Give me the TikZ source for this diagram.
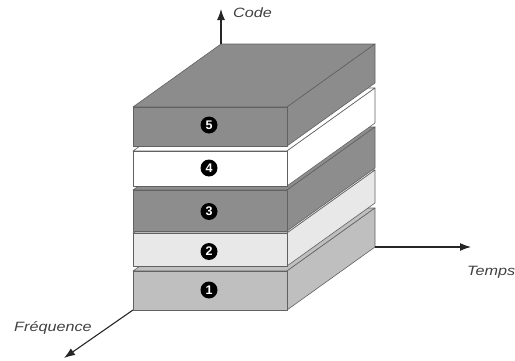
\documentclass[tikz,border=0pt]{standalone}
\usepackage{fontspec}
\setmainfont{Liberation Sans}
\usetikzlibrary{arrows.meta}
\begin{document}
\begin{tikzpicture}[x=1pt,y=1pt,
  edge/.style={draw=black!62,line width=0.6pt,line join=round},
  axis/.style={draw=black!85,line width=1.1pt,-{Latex[length=11pt,width=8pt]}},
  axislabel/.style={font=\itshape\fontsize{13.5}{13.5}\selectfont,text=black!75,inner sep=0pt,xscale=1.2},
  badge/.style={circle,fill=black,text=white,inner sep=0pt,minimum size=17pt,
    font=\bfseries\fontsize{12.5}{12.5}\selectfont}]
\useasboundingbox (0,0) rectangle (515,360);
% depth offset of the oblique projection
\def\dx{88}\def\dy{63}
% one slab: bottom y, top y, fill colour
\newcommand\layerslab[3]{%
  \path[edge,fill=#3] (133,#2) -- (287,#2) -- (287+\dx,#2+\dy) -- (133+\dx,#2+\dy) -- cycle;
  \path[edge,fill=#3] (287,#1) -- (287+\dx,#1+\dy) -- (287+\dx,#2+\dy) -- (287,#2) -- cycle;
  \path[edge,fill=#3] (133,#1) rectangle (287,#2);}
\definecolor{slabA}{HTML}{BFBFBF}
\definecolor{slabB}{HTML}{E8E8E8}
\definecolor{slabC}{HTML}{8D8D8D}
\definecolor{slabD}{HTML}{FFFFFF}
\definecolor{slabE}{HTML}{8C8C8C}
% stack, from the bottom up
\layerslab{50}{89}{slabA}
\layerslab{94}{127}{slabB}
\layerslab{129}{170}{slabC}
\layerslab{174}{209}{slabD}
\layerslab{214}{253}{slabE}
% numbered badges
\node[badge] (n1) at (209,70) {1};
\node[badge] (n2) at (209,108.5) {2};
\node[badge] (n3) at (209,148.5) {3};
\node[badge] (n4) at (209,192) {4};
\node[badge] (n5) at (209,235) {5};
% axes
\coordinate (o) at (133,50);
\coordinate (ot) at (287+\dx,50+\dy);
\coordinate (oc) at (133+\dx,253+\dy);
\coordinate (fend) at (64,2);
\coordinate (tend) at (471,113);
\coordinate (cend) at (221,351);
\draw[axis] (oc) -- (cend);
\draw[axis] (ot) -- (tend);
\draw[axis] (o) -- (fend);
\node[axislabel,anchor=west] (lc) at (233,347) {Code};
\node[axislabel,anchor=west] (lt) at (467,88) {Temps};
\node[axislabel,anchor=west] (lf) at (14,32) {Fréquence};
\end{tikzpicture}
\end{document}
